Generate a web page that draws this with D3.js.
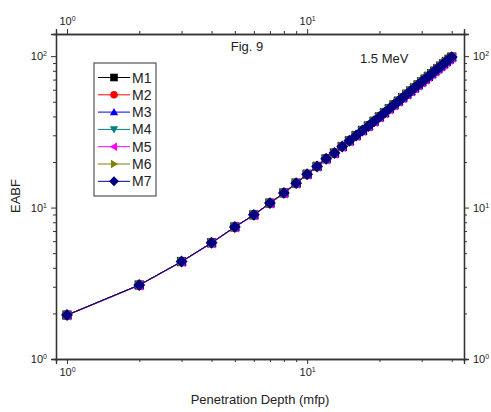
<!DOCTYPE html>
<html>
<head>
<meta charset="utf-8">
<script src="https://cdn.jsdelivr.net/npm/d3@7"></script>
<style>
body { margin: 0; background: #fff; }
svg text { font-family: "Liberation Sans", Arial, sans-serif; fill: #222; }
</style>
</head>
<body>
<div id="chart"></div>
<script>
// penetration depth (mfp)
var depth = [1,2,3,4,5,6,7,8,9,10,11,12,13,14,15,16,17,18,19,20,
             21,22,23,24,25,26,27,28,29,30,31,32,33,34,35,36,37,38,39,40];
// EABF (all seven models nearly overlap)
var m1 = [1.95,3.08,4.40,5.85,7.45,8.95,10.7,12.5,14.5,16.6,18.7,21.0,22.9,25.3,27.6,29.9,32.3,34.6,37.1,39.7,
          42.3,45.0,47.7,50.4,53.2,56.0,58.8,61.7,64.6,67.6,70.5,73.5,76.5,79.6,82.7,85.8,88.9,92.1,95.3,98.5];
var m2 = [1.95,3.08,4.40,5.85,7.44,8.94,10.7,12.5,14.5,16.6,18.7,21.0,22.9,25.3,27.6,29.9,32.3,34.6,37.1,39.7,
          42.3,45.0,47.7,50.4,53.2,56.0,58.8,61.7,64.6,67.6,70.5,73.5,76.5,79.6,82.7,85.8,88.9,92.1,95.3,98.4];
var m3 = [1.95,3.08,4.40,5.86,7.45,8.96,10.7,12.5,14.5,16.6,18.7,21.0,22.9,25.3,27.6,29.9,32.3,34.6,37.1,39.7,
          42.3,45.0,47.7,50.4,53.2,56.0,58.8,61.7,64.6,67.6,70.5,73.5,76.5,79.6,82.7,85.8,88.9,92.1,95.3,98.6];
var m4 = [1.95,3.07,4.39,5.84,7.43,8.93,10.7,12.4,14.4,16.5,18.6,20.9,22.8,25.2,27.5,29.8,32.2,34.5,37.0,39.6,
          42.2,44.9,47.6,50.3,53.1,55.9,58.7,61.6,64.5,67.5,70.4,73.4,76.4,79.5,82.6,85.7,88.8,92.0,95.2,98.4];
var m5 = [1.94,3.06,4.37,5.81,7.40,8.89,10.6,12.4,14.4,16.5,18.6,20.8,22.7,25.1,27.4,29.7,32.1,34.3,36.8,39.4,
          42.0,44.7,47.3,50.0,52.8,55.6,58.4,61.2,64.1,67.1,70.0,72.9,75.9,79.0,82.1,85.1,88.2,91.4,94.6,97.8];
var m6 = [1.95,3.08,4.40,5.85,7.45,8.95,10.7,12.5,14.5,16.6,18.7,21.0,22.9,25.3,27.6,29.9,32.3,34.6,37.1,39.7,
          42.3,45.0,47.7,50.4,53.2,56.0,58.8,61.7,64.6,67.6,70.5,73.5,76.5,79.6,82.7,85.8,88.9,92.1,95.3,98.5];
var m7 = [1.95,3.08,4.40,5.85,7.45,8.95,10.7,12.5,14.5,16.6,18.7,21.0,22.9,25.3,27.6,29.9,32.3,34.6,37.1,39.7,
          42.3,45.0,47.7,50.4,53.2,56.0,58.8,61.7,64.6,67.6,70.5,73.5,76.5,79.6,82.7,85.8,88.9,92.1,95.3,98.5];

var seriesNames = ["M1","M2","M3","M4","M5","M6","M7"];
var seriesValues = [m1, m2, m3, m4, m5, m6, m7];
var seriesColors = ["#000000","#ff0000","#0000ff","#008080","#ff00ff","#808000","#000080"];
var seriesSymbols = ["square","circle","triUp","triDown","triLeft","triRight","diamond"];

var xMajor = [1, 10];
var xMinor = [2,3,4,5,6,7,8,9,20,30,40];
var yMajor = [1, 10, 100];
var yMinor = [2,3,4,5,6,7,8,9,20,30,40,50,60,70,80,90];

function init() {
  var w = 491, h = 412;
  var left = 56, right = 464, top = 34, bottom = 359;

  var svg = d3.select("#chart").append("svg")
    .attr("width", w).attr("height", h);

  var x = d3.scaleLog().domain([0.9, 45]).range([left, right]);
  var y = d3.scaleLog().domain([1, 140]).range([bottom, top]);

  // marker shapes, r ~ half width
  function symbolPath(kind, r) {
    switch (kind) {
      case "square": return "M" + (-r) + "," + (-r) + "h" + 2*r + "v" + 2*r + "h" + (-2*r) + "Z";
      case "circle": return d3.symbol(d3.symbolCircle, Math.PI * r * r)();
      case "triUp": return "M0," + (-r*1.1) + "L" + r*1.1 + "," + r*0.8 + "L" + (-r*1.1) + "," + r*0.8 + "Z";
      case "triDown": return "M0," + r*1.1 + "L" + r*1.1 + "," + (-r*0.8) + "L" + (-r*1.1) + "," + (-r*0.8) + "Z";
      case "triLeft": return "M" + (-r*1.1) + ",0L" + r*0.8 + "," + (-r*1.1) + "L" + r*0.8 + "," + r*1.1 + "Z";
      case "triRight": return "M" + r*1.1 + ",0L" + (-r*0.8) + "," + (-r*1.1) + "L" + (-r*0.8) + "," + r*1.1 + "Z";
      case "diamond": return "M0," + (-r*1.3) + "L" + r*1.3 + ",0L0," + r*1.3 + "L" + (-r*1.3) + ",0Z";
    }
  }

  // axes
  function supLabels(g, anchor) {
    g.selectAll(".tick text").each(function(d) {
      var t = d3.select(this);
      t.text(null).attr("text-anchor", anchor);
      t.append("tspan").text("10");
      t.append("tspan").attr("dy", "-0.55em").attr("font-size", "7px")
        .text(Math.round(Math.log10(d)));
    });
  }
  function styleAxis(g) {
    g.select(".domain").attr("stroke", "#333").attr("stroke-width", 1.3);
    g.selectAll(".tick line").attr("stroke", "#333").attr("stroke-width", 1);
    g.selectAll("text").attr("font-size", "11px").attr("fill", "#222");
  }

  var axes = [
    {gen: d3.axisBottom, scale: x, major: xMajor, minor: xMinor, tr: "translate(0," + bottom + ")", anchor: "middle"},
    {gen: d3.axisTop, scale: x, major: xMajor, minor: xMinor, tr: "translate(0," + top + ")", anchor: "middle"},
    {gen: d3.axisLeft, scale: y, major: yMajor, minor: yMinor, tr: "translate(" + left + ",0)", anchor: "end"},
    {gen: d3.axisRight, scale: y, major: yMajor, minor: yMinor, tr: "translate(" + right + ",0)", anchor: "start"}
  ];
  axes.forEach(function(a) {
    var gm = svg.append("g").attr("transform", a.tr)
      .call(a.gen(a.scale).tickValues(a.minor).tickSize(3).tickFormat(""));
    styleAxis(gm);
    var g = svg.append("g").attr("transform", a.tr)
      .call(a.gen(a.scale).tickValues(a.major).tickSize(5).tickPadding(4));
    styleAxis(g);
    supLabels(g, a.anchor);
  });

  // curves
  var line = d3.line()
    .x(function(d) { return x(d[0]); })
    .y(function(d) { return y(d[1]); });

  seriesValues.forEach(function(vals, i) {
    var pts = depth.map(function(d, j) { return [d, vals[j]]; });
    svg.append("path").datum(pts)
      .attr("fill", "none").attr("stroke", seriesColors[i]).attr("stroke-width", 1)
      .attr("d", line);
    svg.append("g").selectAll("path").data(pts).enter().append("path")
      .attr("transform", function(d) { return "translate(" + x(d[0]) + "," + y(d[1]) + ")"; })
      .attr("d", symbolPath(seriesSymbols[i], 4.6))
      .attr("fill", seriesColors[i]);
  });

  // legend
  var lg = svg.append("g").attr("transform", "translate(94,63)");
  lg.append("rect").attr("width", 62).attr("height", 133)
    .attr("fill", "#fff").attr("stroke", "#333").attr("stroke-width", 1);
  seriesNames.forEach(function(name, i) {
    var yy = 14.5 + i * 17.3;
    lg.append("line").attr("x1", 4).attr("x2", 36).attr("y1", yy).attr("y2", yy)
      .attr("stroke", seriesColors[i]).attr("stroke-width", 1);
    lg.append("path").attr("transform", "translate(20," + yy + ")")
      .attr("d", symbolPath(seriesSymbols[i], 3.8)).attr("fill", seriesColors[i]);
    lg.append("text").attr("x", 38).attr("y", yy + 5)
      .attr("font-size", "14px").text(name);
  });

  // texts
  svg.append("text").attr("x", 247).attr("y", 51).attr("text-anchor", "middle")
    .attr("font-size", "13px").text("Fig. 9");
  svg.append("text").attr("x", 360).attr("y", 63)
    .attr("font-size", "13px").text("1.5 MeV");
  svg.append("text").attr("x", 260).attr("y", 404).attr("text-anchor", "middle")
    .attr("font-size", "13px").text("Penetration Depth (mfp)");
  svg.append("text").attr("transform", "translate(20,196) rotate(-90)")
    .attr("text-anchor", "middle").attr("font-size", "13px").text("EABF");
}

window.onload = init;
</script>
</body>
</html>
